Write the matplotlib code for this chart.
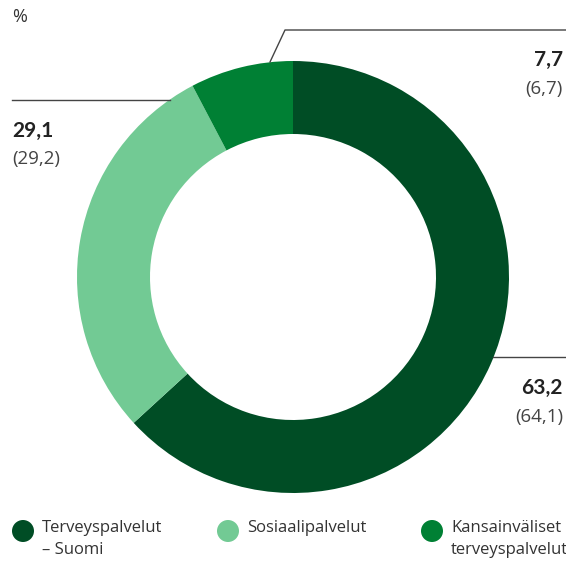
import matplotlib.pyplot as plt
from matplotlib.patches import Circle

# data
labels = ["Terveyspalvelut\n– Suomi", "Sosiaalipalvelut", "Kansainväliset\nterveyspalvelut"]
values = [63.2, 29.1, 7.7]
prev_values = [64.1, 29.2, 6.7]
colors = ["#004d25", "#72ca94", "#008034"]

W, H = 566, 562
fig = plt.figure(figsize=(W / 100, H / 100), dpi=100)
ax = fig.add_axes([0, 0, 1, 1])

plt.rcParams["font.family"] = ["Lato", "DejaVu Sans"]
light = ["Open Sans", "DejaVu Sans"]

def Y(y):
    # pixel row -> data y
    return H - y

cx, cy = 293, Y(277)
R = 216
ax.pie(values, colors=colors, startangle=90, counterclock=False,
       radius=R, center=(cx, cy), frame=True,
       wedgeprops=dict(width=73, linewidth=0))
ax.set_xlim(0, W)
ax.set_ylim(0, H)
ax.set_aspect("equal")
ax.axis("off")

txt = "#222222"
ax.text(12, Y(17), "%", fontsize=13, family=light, color="#333333", va="center", ha="left")

# leader lines
lc = "#444444"
ax.plot([270, 285, W], [Y(62), Y(30), Y(30)], color=lc, lw=1)
ax.plot([12, 170], [Y(100), Y(100)], color=lc, lw=1)
ax.plot([493, W], [Y(357), Y(357)], color=lc, lw=1)

def fmt(v):
    return f"{v:.1f}".replace(".", ",")

# value labels
ax.text(563, Y(60), fmt(values[2]), fontsize=15, fontweight="bold", color=txt, ha="right", va="center")
ax.text(563, Y(89), f"({fmt(prev_values[2])})", fontsize=13.5, family=light, color="#444444", ha="right", va="center")
ax.text(12, Y(131), fmt(values[1]), fontsize=15, fontweight="bold", color=txt, ha="left", va="center")
ax.text(12, Y(159), f"({fmt(prev_values[1])})", fontsize=13.5, family=light, color="#444444", ha="left", va="center")
ax.text(563, Y(388), fmt(values[0]), fontsize=15, fontweight="bold", color=txt, ha="right", va="center")
ax.text(563, Y(417), f"({fmt(prev_values[0])})", fontsize=13.5, family=light, color="#444444", ha="right", va="center")

# legend
leg_x = [23, 228, 432]
for x, lab, c in zip(leg_x, labels, colors):
    ax.add_patch(Circle((x, Y(531)), 11, color=c, lw=0))
    ax.text(x + 19, Y(520), lab, fontsize=12, family=light, color="#333333", ha="left", va="top",
            linespacing=1.5)

fig.savefig("out.png", dpi=100)
